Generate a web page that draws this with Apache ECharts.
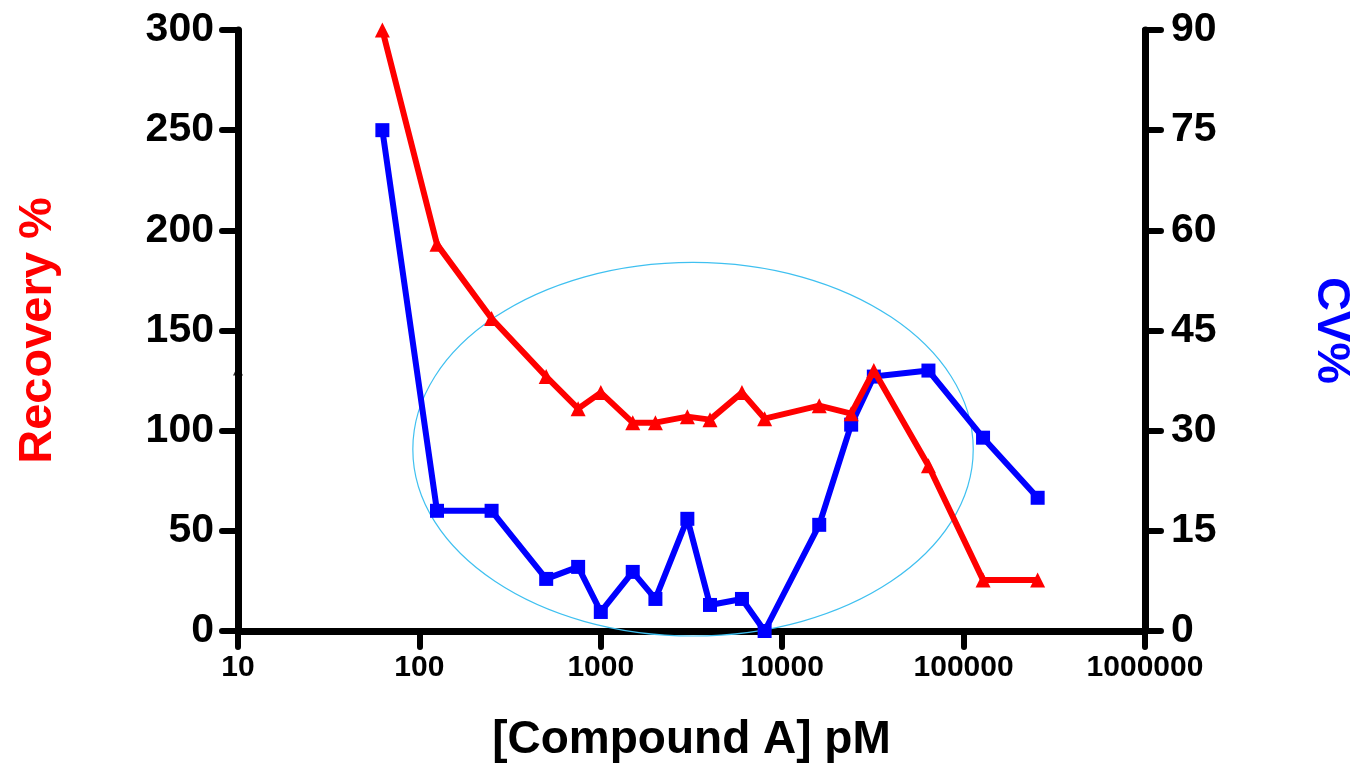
<!DOCTYPE html>
<html>
<head>
<meta charset="utf-8">
<script src="https://cdn.jsdelivr.net/npm/echarts@6/dist/echarts.min.js"></script>
<style>html,body{margin:0;padding:0;background:#fff;}#c{width:1364px;height:768px;}</style>
</head>
<body>
<div id="c"></div>
<script>
var concentrations = [62.5,125,250,500,750,1000,1500,2000,3000,4000,6000,8000,16000,24000,32000,64000,128000,256000];
var recovery = [300,193,156,127,111,119,104,104,107,105.5,119,106,112.5,108.5,130,82.5,25.5,25.5];
var cv = [75,18,18,7.8,9.6,2.85,8.85,4.8,16.8,3.9,4.8,0,15.9,30.9,38.1,39,28.95,19.95];
var leftTicks = [0,300,50];
var rightTicks = [0,90,15];
var xRange = [10,1000000];
var strayMark = [[10,130]];
// ellipse annotation bounds in data units: [xLeft, xRight, yBottom, yTop]
var ellipseBounds = [[92,113000,-2.5,184]];

function pairs(xs, ys){ return xs.map(function(x,i){return [x, ys[i]];}); }

var chart = echarts.init(document.getElementById('c'));
var F = 'Liberation Sans, Arial, sans-serif';
var axisLineStyle = {color:'#000', width:7, cap:'round'};
var tickStyle = {color:'#000', width:6, cap:'round'};

chart.setOption({
  animation:false,
  backgroundColor:'#fff',
  grid:{left:238, right:219, top:30, bottom:136},
  xAxis:{
    type:'log', logBase:10, min:xRange[0], max:xRange[1],
    name:'[Compound A] pM', nameLocation:'middle', nameGap:86,
    nameTextStyle:{fontFamily:F, fontWeight:'bold', fontSize:46, color:'#000'},
    axisLine:{show:true, onZero:false, lineStyle:axisLineStyle},
    axisTick:{show:true, length:16, lineStyle:tickStyle},
    minorTick:{show:false},
    splitLine:{show:false},
    axisLabel:{fontFamily:F, fontWeight:'bold', fontSize:30, color:'#000', margin:22,
      formatter:function(v){return String(Math.round(v));}}
  },
  yAxis:[{
    type:'value', min:leftTicks[0], max:leftTicks[1], interval:leftTicks[2], position:'left',
    name:'Recovery %', nameLocation:'middle', nameGap:176, nameRotate:90,
    nameTextStyle:{fontFamily:F, fontWeight:'bold', fontSize:47, color:'#ff0000'},
    axisLine:{show:true, lineStyle:axisLineStyle},
    axisTick:{show:true, length:16, lineStyle:tickStyle},
    splitLine:{show:false},
    axisLabel:{fontFamily:F, fontWeight:'bold', fontSize:41, color:'#000', margin:24}
  },{
    type:'value', min:rightTicks[0], max:rightTicks[1], interval:rightTicks[2], position:'right',
    name:'CV%', nameLocation:'middle', nameGap:162, nameRotate:-90,
    nameTextStyle:{fontFamily:F, fontWeight:'bold', fontSize:47, color:'#0000ff'},
    axisLine:{show:true, lineStyle:axisLineStyle},
    axisTick:{show:true, length:16, lineStyle:tickStyle},
    splitLine:{show:false},
    axisLabel:{fontFamily:F, fontWeight:'bold', fontSize:41, color:'#000', margin:26}
  }],
  series:[{
    type:'custom', yAxisIndex:0, silent:true, z:1, clip:false,
    data:ellipseBounds,
    renderItem:function(params, api){
      var p1 = api.coord([api.value(0), api.value(2)]);
      var p2 = api.coord([api.value(1), api.value(3)]);
      var cx = (p1[0]+p2[0])/2, cy = (p1[1]+p2[1])/2;
      var rx = Math.abs(p2[0]-p1[0])/2, ry = Math.abs(p2[1]-p1[1])/2;
      return {type:'ellipse', shape:{cx:cx, cy:cy, rx:rx, ry:ry},
        style:{fill:null, stroke:'#3fc0f0', lineWidth:1.2}};
    }
  },{
    type:'line', yAxisIndex:1, data:pairs(concentrations, cv), z:3,
    symbol:'rect', symbolSize:14, showAllSymbol:true,
    lineStyle:{color:'#0000ff', width:6}, itemStyle:{color:'#0000ff'}
  },{
    type:'line', yAxisIndex:0, data:pairs(concentrations, recovery), z:4,
    symbol:'triangle', symbolSize:15, showAllSymbol:true,
    lineStyle:{color:'#ff0000', width:6}, itemStyle:{color:'#ff0000'}
  },{
    type:'scatter', yAxisIndex:0, data:strayMark, z:5, clip:false,
    symbol:'triangle', symbolSize:10, itemStyle:{color:'#000'}
  }]
});
</script>
</body>
</html>
